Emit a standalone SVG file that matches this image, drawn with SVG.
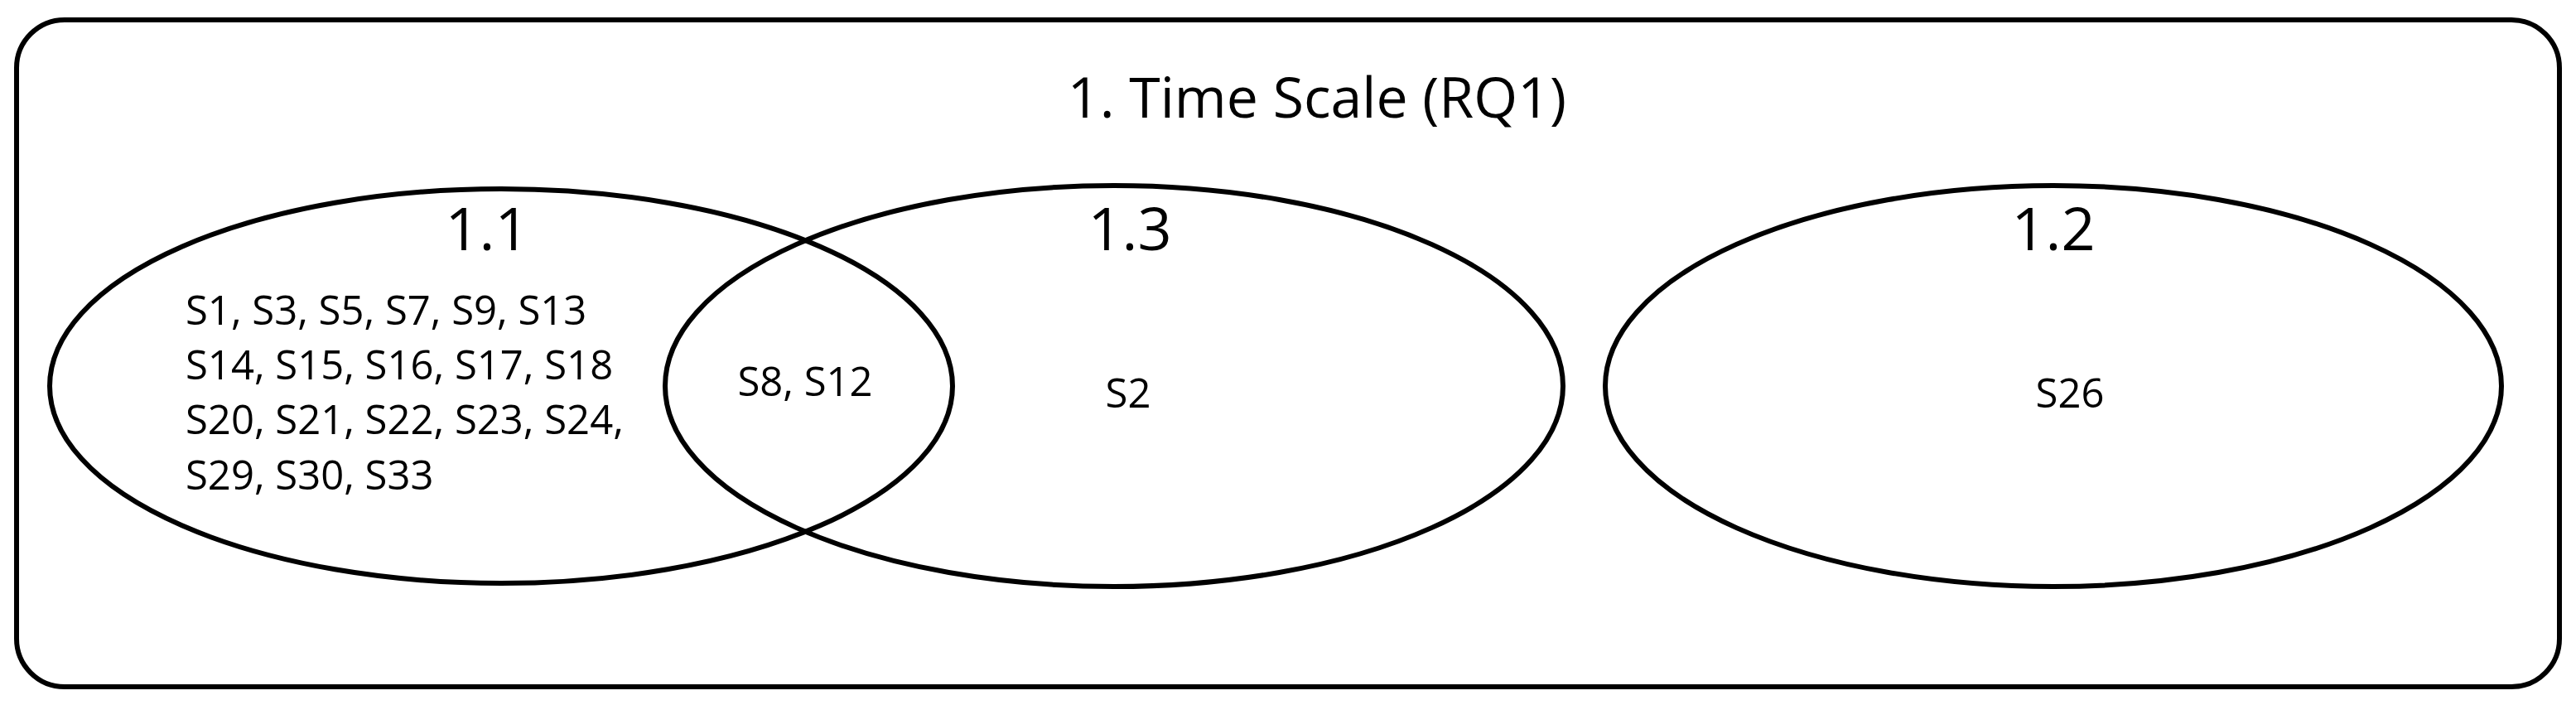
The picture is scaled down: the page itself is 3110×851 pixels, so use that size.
<svg xmlns="http://www.w3.org/2000/svg" width="3110" height="851" viewBox="0 0 3110 851">
<style>
.s{fill:none;stroke:#000;stroke-width:6}
.t{font-family:"Open Sans","Liberation Sans",sans-serif;fill:#000}
.h{font-size:68px;text-anchor:middle}
.l{font-size:72px;text-anchor:middle}
.b{font-size:49px}
.c{text-anchor:middle}
</style>
<rect width="3110" height="851" fill="#fff"/>
<g id="frame"><rect class="s" x="20" y="24" width="3070" height="805" rx="58"/>
<text class="t h" x="1590" y="142">1. Time Scale (RQ1)</text></g>
<g id="n11"><ellipse class="s" cx="605" cy="466" rx="545" ry="238"/>
<text class="t l" x="588" y="302">1.1</text>
<text class="t b" x="224" y="392">S1, S3, S5, S7, S9, S13</text>
<text class="t b" x="224" y="458">S14, S15, S16, S17, S18</text>
<text class="t b" x="224" y="524">S20, S21, S22, S23, S24,</text>
<text class="t b" x="224" y="591">S29, S30, S33</text></g>
<g id="n13"><ellipse class="s" cx="1345" cy="466" rx="542" ry="242"/>
<text class="t l" x="1364" y="302">1.3</text>
<text class="t b c" x="972" y="478">S8, S12</text>
<text class="t b c" x="1362" y="492">S2</text></g>
<g id="n12"><ellipse class="s" cx="2479" cy="466" rx="541" ry="242"/>
<text class="t l" x="2479" y="302">1.2</text>
<text class="t b c" x="2499" y="492">S26</text></g>
<g id="connectors"/>
</svg>
